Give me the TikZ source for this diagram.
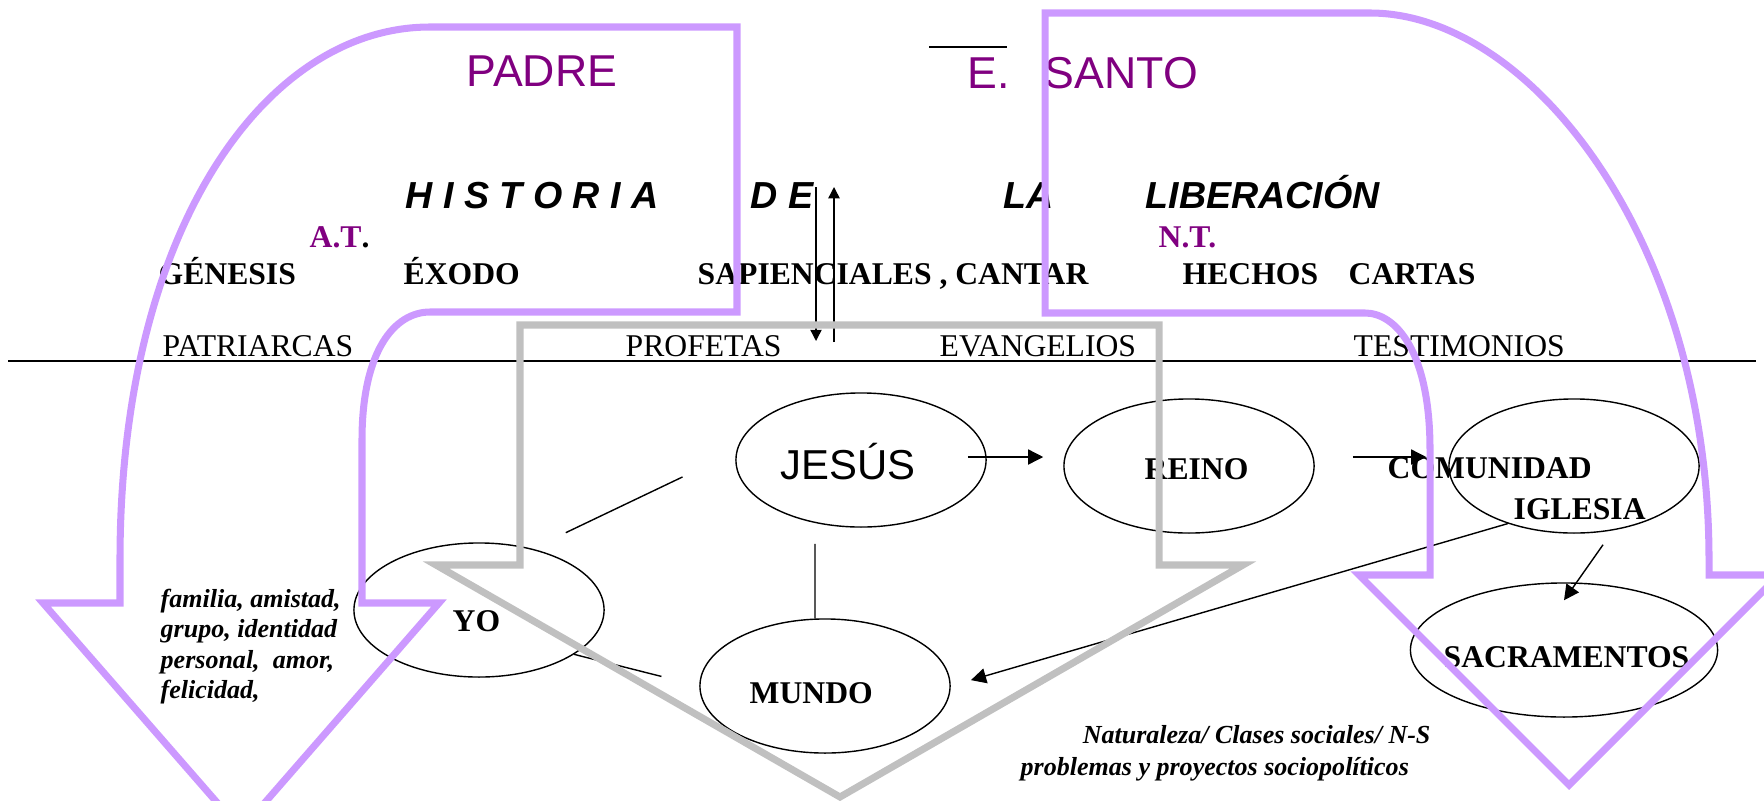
\documentclass[tikz,border=0pt]{standalone}
\usepackage{fontspec}
\setmainfont{Liberation Serif}
\newfontfamily\arial{Liberation Sans}
\usetikzlibrary{shapes.geometric,arrows.meta,calc}
\definecolor{lila}{HTML}{CC99FF}
\definecolor{morado}{HTML}{800080}
\definecolor{gris}{HTML}{C0C0C0}
\tikzset{
  oval/.style={draw, ellipse, line width=0.4pt, minimum width=2.5cm, minimum height=1.34cm, inner sep=0pt},
  word/.style={anchor=base west, inner sep=0pt, font=\bfseries\fontsize{9}{11}\selectfont},
  era/.style={word, font=\fontsize{9}{11}\selectfont},
  title/.style={word, font=\arial\bfseries\itshape\fontsize{10.7}{12}\selectfont},
  person/.style={word, text=morado, font=\arial\fontsize{12.7}{14}\selectfont},
  note/.style={anchor=north west, inner sep=0pt, align=left, font=\bfseries\itshape\fontsize{7.4}{8.7}\selectfont},
  link/.style={line width=0.4pt},
  arr/.style={link, -{Triangle[length=4.3pt,width=4.3pt]}},
  arrsmall/.style={link, -{Triangle[length=3.2pt,width=3.2pt]}},
  bigarrow/.style={line width=2pt, line join=miter},
}
\begin{document}
\begin{tikzpicture}[x=0.01cm,y=-0.01cm]
  \useasboundingbox (0,0) rectangle (1764,800);
  %% persons
  \node[person] (padre) at (466,87) {PADRE};
  \node[person] (santo) at (967,88) {E.\hspace{0.35cm}SANTO};
  \draw[link] (929,47) -- (1007,47);
  %% title
  \node[title] (hist) at (405,208) {H I S T O R I A};
  \node[title] (de) at (750,208) {D E};
  \node[title] (la) at (1003,208) {LA};
  \node[title] (lib) at (1145,208) {LIBERACIÓN};
  %% books
  \node[word] (at) at (309,247) {\textcolor{morado}{A.T}.};
  \node[word, text=morado] (nt) at (1158,247) {N.T.};
  \node[word] (genesis) at (158,284) {GÉNESIS};
  \node[word] (exodo) at (403,284) {ÉXODO};
  \node[word] (sapien) at (697,284) {SAPIENCIALES , CANTAR};
  \node[word] (hechos) at (1182,284) {HECHOS};
  \node[word] (cartas) at (1348,284) {CARTAS};
  %% eras
  \node[era] (patri) at (162,356) {PATRIARCAS};
  \node[era] (profetas) at (625,356) {PROFETAS};
  \node[era] (evang) at (939,356) {EVANGELIOS};
  \node[era] (testi) at (1353,356) {TESTIMONIOS};
  \draw[link] (8,361) -- (1756,361);
  \draw[arrsmall] (816,187) -- (816,341);
  \draw[arrsmall] (834,342) -- (834,187);
  %% ovals
  \node[oval] (jesus) at (861,460) {};
  \node[oval] (reino) at (1189,466) {};
  \node[oval] (comunidad) at (1574,466) {};
  \node[oval] (yo) at (479,610) {};
  \node[oval] (mundo) at (825,686) {};
  \node[oval, minimum width=3.07cm] (sacra) at (1564,650) {};
  \node[word, font=\arial\fontsize{11.9}{13}\selectfont] (jesuslbl) at (780,479) {JESÚS};
  \node[word] (reinolbl) at (1144,479) {REINO};
  \node[word] (comlbl) at (1387,478) {COMUNIDAD};
  \node[word] (iglesia) at (1513,519) {IGLESIA};
  \node[word] (yolbl) at (452,631) {YO};
  \node[word] (mundolbl) at (749,703) {MUNDO};
  \node[word] (sacralbl) at (1443,667) {SACRAMENTOS};
  %% notes
  \node[note] (fam) at (160,588) {familia, amistad,\\ grupo, identidad\\ personal,\ \ amor,\\ felicidad,};
  \node[note, font=\bfseries\itshape\fontsize{7.4}{9.1}\selectfont] (nat) at (1020,725)
    {\hspace*{0.62cm}Naturaleza/ Clases sociales/ N-S\\ problemas y proyectos sociopolíticos};
  %% links
  \draw[link, shorten <=0.595cm, shorten >=0.37cm] (jesus.176) -- (yo.49);
  \draw[link, shorten >=0.16cm] ([xshift=-0.1cm]mundo.north) -- ($(jesus.south -| mundo.north)+(-10,0)$);
  \draw[link, shorten >=0.39cm] (yo.-25) -- (mundo.west);
  \draw[arr] ($(jesus.east)+(-19,-3)$) -- ($(jesus.east -| reino.west)+(-20,-3)$);
  \draw[arr] ($(reino.east)+(38,-9)$) -- ($(reino.east -| comunidad.west)+(-22,-9)$);
  \draw[arr] ($(comunidad.south)+(29,11)$) -- ($(sacra.north)+(0,18)$);
  \draw[arr, shorten >=0.21cm] (comunidad.221) -- (mundo.east);
  %% big arrows
  \draw[bigarrow, gris] (840,797) -- (436,565) -- (520,565) -- (520,325) -- (1159,325)
    -- (1159,565) -- (1243,565) -- cycle;
  \draw[bigarrow, lila] (241,830) -- (43,603) -- (120,603) -- (120,560)
    .. controls (120,230) and (265,27) .. (430,27) -- (737,27) -- (737,312) -- (430,312)
    .. controls (395,312) and (362,350) .. (362,440) -- (362,603) -- (439,603) -- cycle;
  \draw[bigarrow, lila] (1569,785) -- (1359,575) -- (1430,575) -- (1430,450)
    .. controls (1430,350) and (1395,313) .. (1365,313) -- (1045,313) -- (1045,13) -- (1370,13)
    .. controls (1530,13) and (1709,240) .. (1709,560) -- (1709,575) -- (1779,575) -- cycle;
\end{tikzpicture}
\end{document}
